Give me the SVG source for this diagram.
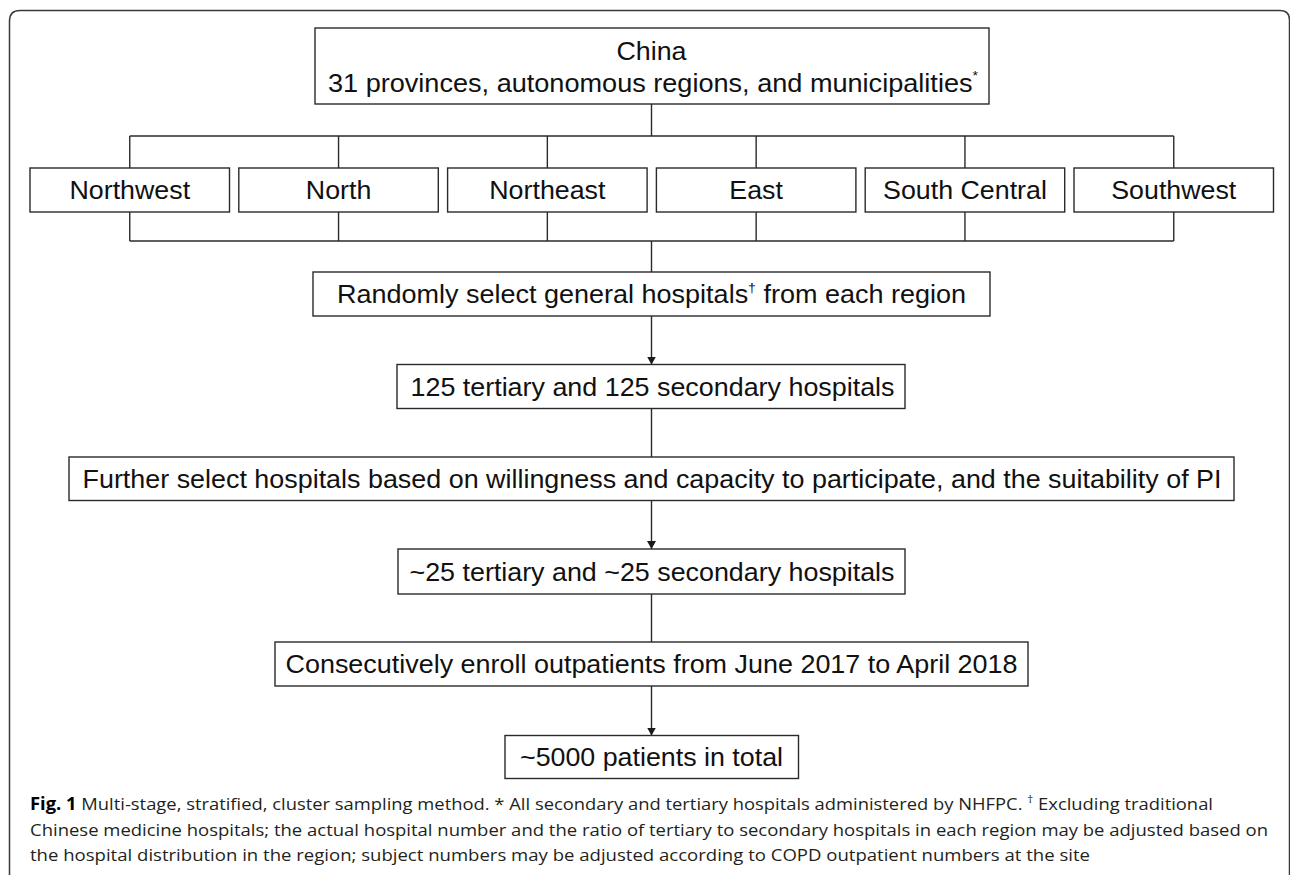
<svg xmlns="http://www.w3.org/2000/svg" width="1290" height="875" viewBox="0 0 1290 875">
  <style>
    .box { fill: #ffffff; stroke: #2a2a2a; stroke-width: 1.4; }
    .lbl { font-family: "Liberation Sans", Arial, sans-serif; font-size: 25px; fill: #111111; }
    .sup { font-size: 13px; }
    .conn { stroke: #2a2a2a; stroke-width: 1.4; fill: none; }
    .cap { font-family: "Open Sans", "Liberation Sans", sans-serif; font-size: 17px; fill: #231f20; }
    .frame { fill: none; stroke: #3a3a3a; stroke-width: 1.5; }
  </style>
  <defs>
    <marker id="arrow" viewBox="0 0 8 9" refX="8" refY="4.5" markerWidth="8" markerHeight="9" markerUnits="userSpaceOnUse" orient="auto">
      <path d="M0,0 L8,4.5 L0,9 Z" fill="#1a1a1a"/>
    </marker>
  </defs>
  <rect width="1290" height="875" fill="#ffffff"/>
  <path class="frame" d="M9.5,880 L9.5,21 Q9.5,10.5 20,10.5 L1280,10.5 Q1289.5,10.5 1289.5,20 L1289.5,880"/>

  <g id="connectors">
    <line class="conn" x1="651.5" y1="104" x2="651.5" y2="136"/>
    <line class="conn" x1="129.75" y1="136" x2="1173.75" y2="136"/>
    <line class="conn" x1="129.75" y1="136" x2="129.75" y2="168"/>
    <line class="conn" x1="338.55" y1="136" x2="338.55" y2="168"/>
    <line class="conn" x1="547.35" y1="136" x2="547.35" y2="168"/>
    <line class="conn" x1="756.15" y1="136" x2="756.15" y2="168"/>
    <line class="conn" x1="964.95" y1="136" x2="964.95" y2="168"/>
    <line class="conn" x1="1173.75" y1="136" x2="1173.75" y2="168"/>
    <line class="conn" x1="129.75" y1="212" x2="129.75" y2="241"/>
    <line class="conn" x1="338.55" y1="212" x2="338.55" y2="241"/>
    <line class="conn" x1="547.35" y1="212" x2="547.35" y2="241"/>
    <line class="conn" x1="756.15" y1="212" x2="756.15" y2="241"/>
    <line class="conn" x1="964.95" y1="212" x2="964.95" y2="241"/>
    <line class="conn" x1="1173.75" y1="212" x2="1173.75" y2="241"/>
    <line class="conn" x1="129.75" y1="241" x2="1173.75" y2="241"/>
    <line class="conn" x1="651.5" y1="241" x2="651.5" y2="272"/>
    <line class="conn" x1="651.5" y1="316" x2="651.5" y2="364.5" marker-end="url(#arrow)"/>
    <line class="conn" x1="651.5" y1="408.5" x2="651.5" y2="457"/>
    <line class="conn" x1="651.5" y1="500.5" x2="651.5" y2="549" marker-end="url(#arrow)"/>
    <line class="conn" x1="651.5" y1="594" x2="651.5" y2="642"/>
    <line class="conn" x1="651.5" y1="686" x2="651.5" y2="735.5" marker-end="url(#arrow)"/>
  </g>

  <g id="china">
    <rect class="box" x="315" y="28" width="674" height="76"/>
    <text class="lbl" x="616.5" y="60" textLength="70" lengthAdjust="spacingAndGlyphs">China</text>
    <text class="lbl" x="328" y="91.7" textLength="650" lengthAdjust="spacingAndGlyphs">31 provinces, autonomous regions, and municipalities<tspan class="sup" dy="-12">*</tspan></text>
  </g>

  <g id="northwest">
    <rect class="box" x="30" y="168" width="199.5" height="44"/>
    <text class="lbl" x="69.5" y="198.5" textLength="120.6" lengthAdjust="spacingAndGlyphs">Northwest</text>
  </g>
  <g id="north">
    <rect class="box" x="238.8" y="168" width="199.5" height="44"/>
    <text class="lbl" x="305.8" y="198.5" textLength="65.5" lengthAdjust="spacingAndGlyphs">North</text>
  </g>
  <g id="northeast">
    <rect class="box" x="447.6" y="168" width="199.5" height="44"/>
    <text class="lbl" x="489.25" y="198.5" textLength="116.2" lengthAdjust="spacingAndGlyphs">Northeast</text>
  </g>
  <g id="east">
    <rect class="box" x="656.4" y="168" width="199.5" height="44"/>
    <text class="lbl" x="729.35" y="198.5" textLength="53.6" lengthAdjust="spacingAndGlyphs">East</text>
  </g>
  <g id="south-central">
    <rect class="box" x="865.2" y="168" width="199.5" height="44"/>
    <text class="lbl" x="883" y="198.5" textLength="163.9" lengthAdjust="spacingAndGlyphs">South Central</text>
  </g>
  <g id="southwest">
    <rect class="box" x="1074" y="168" width="199.5" height="44"/>
    <text class="lbl" x="1111.25" y="198.5" textLength="125" lengthAdjust="spacingAndGlyphs">Southwest</text>
  </g>

  <g id="random-select">
    <rect class="box" x="313" y="272" width="677" height="44"/>
    <text class="lbl" x="337" y="302.5" textLength="629" lengthAdjust="spacingAndGlyphs">Randomly select general hospitals<tspan class="sup" dy="-11">†</tspan><tspan dy="11"> from each region</tspan></text>
  </g>

  <g id="hospitals-250">
    <rect class="box" x="397" y="364.5" width="508" height="44"/>
    <text class="lbl" x="410.5" y="395.5" textLength="484" lengthAdjust="spacingAndGlyphs">125 tertiary and 125 secondary hospitals</text>
  </g>

  <g id="further-select">
    <rect class="box" x="69" y="457" width="1165" height="43.5"/>
    <text class="lbl" x="82.5" y="487.5" textLength="1139" lengthAdjust="spacingAndGlyphs">Further select hospitals based on willingness and capacity to participate, and the suitability of PI</text>
  </g>

  <g id="hospitals-50">
    <rect class="box" x="398" y="549" width="507" height="45"/>
    <text class="lbl" x="409.5" y="580.5" textLength="485" lengthAdjust="spacingAndGlyphs">~25 tertiary and ~25 secondary hospitals</text>
  </g>

  <g id="enroll">
    <rect class="box" x="275" y="642" width="753" height="44"/>
    <text class="lbl" x="285.5" y="673" textLength="732" lengthAdjust="spacingAndGlyphs">Consecutively enroll outpatients from June 2017 to April 2018</text>
  </g>

  <g id="patients">
    <rect class="box" x="505" y="735.5" width="293.5" height="43"/>
    <text class="lbl" x="520" y="766" textLength="263" lengthAdjust="spacingAndGlyphs">~5000 patients in total</text>
  </g>

  <g id="caption">
    <text class="cap" x="30" y="810" textLength="1183" lengthAdjust="spacingAndGlyphs"><tspan font-weight="bold" fill="#000000">Fig. 1</tspan> Multi-stage, stratified, cluster sampling method. * All secondary and tertiary hospitals administered by NHFPC. <tspan font-size="11" dy="-7">†</tspan><tspan dy="7"> Excluding traditional</tspan></text>
    <text class="cap" x="30" y="835.5" textLength="1238" lengthAdjust="spacingAndGlyphs">Chinese medicine hospitals; the actual hospital number and the ratio of tertiary to secondary hospitals in each region may be adjusted based on</text>
    <text class="cap" x="30" y="861" textLength="1060" lengthAdjust="spacingAndGlyphs">the hospital distribution in the region; subject numbers may be adjusted according to COPD outpatient numbers at the site</text>
  </g>
</svg>
